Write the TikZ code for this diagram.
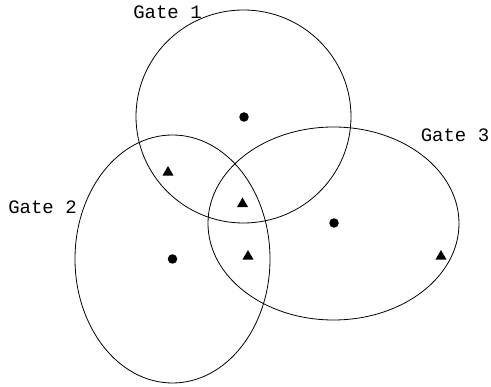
\documentclass[tikz,border=0pt]{standalone}
\usepackage{fontspec}
\setmonofont{Liberation Mono}
\usetikzlibrary{shapes.geometric}

\begin{document}
\begin{tikzpicture}[
    x=1pt, y=-1pt,
    font=\ttfamily\fontsize{19pt}{22pt}\selectfont,
    gate/.style={
        ellipse,
        draw=black,
        line width=0.8pt,
        inner sep=0pt
    },
    gatelabel/.style={inner sep=0pt},
    centre/.style={circle, fill=black, inner sep=0pt, minimum size=9.5pt},
    member/.style={
        regular polygon,
        regular polygon sides=3,
        fill=black,
        inner sep=0pt,
        minimum size=13pt
    }
]

\useasboundingbox (0,0) rectangle (491,387);

%% GATES %%
\node (gate1) [gate, minimum width=215pt, minimum height=213pt] at (243.5,116.5) {};
\node (gate2) [gate, minimum width=195pt, minimum height=248pt] at (172.5,259) {};
\node (gate3) [gate, minimum width=251pt, minimum height=193pt] at (333.5,223.5) {};

%% LABELS %%
\node (gate1_label) [gatelabel] at (167.5,12) {Gate 1};
\node (gate2_label) [gatelabel] at (42.5,207) {Gate 2};
\node (gate3_label) [gatelabel] at (455,135) {Gate 3};

%% CENTRES %%
\node (centre1) [centre] at (244,117) {};
\node (centre2) [centre] at (172.5,259) {};
\node (centre3) [centre] at (334,223) {};

%% MEMBERS %%
\node (member12) [member] at (168,172.5) {};
\node (member123) [member] at (242.5,204) {};
\node (member23) [member] at (248,256.5) {};
\node (member3) [member] at (441,256.5) {};

\end{tikzpicture}
\end{document}
